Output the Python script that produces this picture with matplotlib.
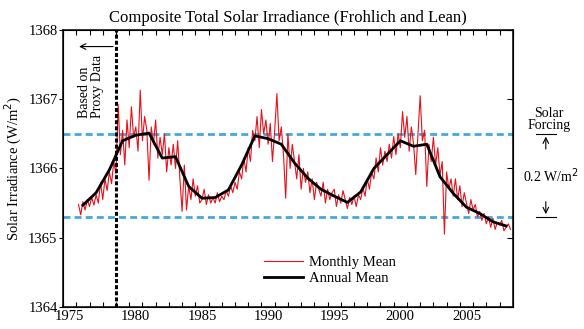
import numpy as np
import matplotlib
matplotlib.use("Agg")
import matplotlib.pyplot as plt

# composite TSI
# monthly series sampled every 2 months, starting Sep 1975
MONTHLY_START = 1975 + 8 / 12.0
monthly = [
    1365.48, 1365.33,
    1365.52, 1365.40, 1365.55, 1365.45, 1365.58, 1365.47,  # 1976
    1365.62, 1365.50, 1365.80, 1365.55, 1365.85, 1365.68,  # 1977
    1365.95, 1365.78, 1366.10, 1365.92, 1366.92, 1366.20,  # 1978
    1366.55, 1366.05, 1366.70, 1366.30, 1366.89, 1366.45,  # 1979
    1366.60, 1366.25, 1367.13, 1366.40, 1366.75, 1366.55,  # 1980
    1365.83, 1366.60, 1366.35, 1366.70, 1366.15, 1366.45,  # 1981
    1366.20, 1366.50, 1365.95, 1366.30, 1366.05, 1366.35,  # 1982
    1366.00, 1366.40, 1365.85, 1365.38, 1366.05, 1365.40,  # 1983
    1365.75, 1365.55, 1365.85, 1365.60, 1365.75, 1365.50,  # 1984
    1365.55, 1365.70, 1365.48, 1365.62, 1365.50, 1365.58,  # 1985
    1365.50, 1365.65, 1365.52, 1365.60, 1365.55, 1365.68,  # 1986
    1365.60, 1365.75, 1365.65, 1365.80, 1365.70, 1365.95,  # 1987
    1365.85, 1366.15, 1365.95, 1366.30, 1366.10, 1366.55,  # 1988
    1366.40, 1366.75, 1366.30, 1366.85, 1366.50, 1366.70,  # 1989
    1366.35, 1366.65, 1366.10, 1366.55, 1367.08, 1366.40,  # 1990
    1366.60, 1366.20, 1365.57, 1366.50, 1366.00, 1366.35,  # 1991
    1366.10, 1365.85, 1366.20, 1365.70, 1366.00, 1365.80,  # 1992
    1365.95, 1365.65, 1365.85, 1365.55, 1365.80, 1365.70,  # 1993
    1365.60, 1365.80, 1365.50, 1365.70, 1365.55, 1365.65,  # 1994
    1365.70, 1365.45, 1365.62, 1365.50, 1365.68, 1365.55,  # 1995
    1365.42, 1365.58, 1365.48, 1365.60, 1365.45, 1365.62,  # 1996
    1365.55, 1365.72, 1365.60, 1365.85, 1365.70, 1365.95,  # 1997
    1365.85, 1366.15, 1365.95, 1366.30, 1366.05, 1366.25,  # 1998
    1366.10, 1366.35, 1366.15, 1366.46, 1366.20, 1366.50,  # 1999
    1366.30, 1366.82, 1366.45, 1366.75, 1366.25, 1366.60,  # 2000
    1366.35, 1365.91, 1366.50, 1367.05, 1366.40, 1366.55,  # 2001
    1365.74, 1366.35, 1366.10, 1366.45, 1366.05, 1366.30,  # 2002
    1365.90, 1366.10, 1365.05, 1365.95, 1365.70, 1365.85,  # 2003
    1365.60, 1365.85, 1365.55, 1365.75, 1365.45, 1365.65,  # 2004
    1365.50, 1365.35, 1365.55, 1365.40, 1365.48, 1365.30,  # 2005
    1365.38, 1365.25, 1365.35, 1365.20, 1365.30, 1365.15,  # 2006
    1365.28, 1365.12, 1365.22, 1365.18, 1365.25, 1365.10,  # 2007
    1365.15, 1365.20, 1365.12,                             # 2008
]

years = list(range(1976, 2009))
annual = [
    1365.47, 1365.65, 1365.98, 1366.40, 1366.48, 1366.51, 1366.15, 1366.17,
    1365.74, 1365.57, 1365.58, 1365.69, 1366.05, 1366.47, 1366.43, 1366.35,
    1366.08, 1365.86, 1365.70, 1365.60, 1365.51, 1365.66, 1366.00, 1366.20,
    1366.40, 1366.32, 1366.35, 1365.88, 1365.64, 1365.44, 1365.35, 1365.23,
    1365.17,
]

proxy_end = 1978.5
band_hi = 1366.5
band_lo = 1365.3
year_labels = [1975, 1980, 1985, 1990, 1995, 2000, 2005]

plt.rcParams['font.family'] = ['Liberation Serif', 'DejaVu Serif']

fig = plt.figure(figsize=(5.84, 3.29), dpi=100)
ax = fig.add_axes([0.108, 0.067, 0.770, 0.842])

t = MONTHLY_START + np.arange(len(monthly)) / 6.0
ax.plot(t, monthly, color='#e8101a', lw=0.8, label='Monthly Mean', zorder=3)
ax.plot(years, annual, color='black', lw=2.0, label='Annual Mean', zorder=4)

blue = '#45a8dc'
ax.axhline(band_hi, color=blue, lw=2.0, ls=(0, (2.5, 1.5)), zorder=2)
ax.axhline(band_lo, color=blue, lw=2.0, ls=(0, (2.5, 1.5)), zorder=2)
ax.axvline(proxy_end, color='black', lw=2.2, ls=(0, (1.3, 0.7)), zorder=5)

ax.set_xlim(1974.5, 2008.5)
ax.set_ylim(1364, 1368)
ax.set_xticks(year_labels)
ax.set_xticks(np.arange(1974.5, 2008.6, 1.0), minor=True)
ax.set_yticks([1364, 1365, 1366, 1367, 1368])
ax.tick_params(axis='x', which='major', length=0, pad=2, labelsize=10.5)
ax.tick_params(axis='x', which='minor', direction='in', length=3.6,
               top=True, bottom=True, width=0.8)
ax.tick_params(axis='y', direction='out', length=3, width=0.8, pad=1,
               labelsize=10.5)
for s in ax.spines.values():
    s.set_linewidth(1.1)

# right side ticks point inwards
ax2 = ax.twinx()
ax2.set_ylim(1364, 1368)
ax2.set_yticks([1364, 1365, 1366, 1367, 1368])
ax2.tick_params(axis='y', direction='in', length=4, width=0.8,
                labelright=False)

ax.set_title('Composite Total Solar Irradiance (Frohlich and Lean)',
             fontsize=12, pad=6)
ax.set_ylabel('Solar Irradiance (W/m$^2$)', fontsize=10.5, labelpad=3)

# proxy data note
ax.annotate('', xy=(1975.5, 1367.76), xytext=(proxy_end, 1367.76),
            arrowprops=dict(arrowstyle='->', color='black', lw=0.8))
ax.text(1976.62, 1366.73, 'Based on\nProxy Data', rotation=90,
        rotation_mode='anchor', ha='left', va='center', fontsize=10,
        linespacing=0.95)

# solar forcing scale on the right
xr = 2011.0
ax.text(xr + 0.25, 1366.71, 'Solar\nForcing', ha='center', va='center',
        fontsize=10, linespacing=0.9, clip_on=False)
ax.plot([xr - 0.75, xr + 0.75], [band_hi, band_hi], color='black', lw=0.8,
        clip_on=False)
ax.plot([xr - 0.75, xr + 0.75], [band_lo, band_lo], color='black', lw=0.8,
        clip_on=False)
ax.annotate('', xy=(xr, band_hi), xytext=(xr, 1366.24),
            arrowprops=dict(arrowstyle='->', color='black', lw=0.8),
            annotation_clip=False)
ax.annotate('', xy=(xr, band_lo), xytext=(xr, 1365.56),
            arrowprops=dict(arrowstyle='->', color='black', lw=0.8),
            annotation_clip=False)
ax.text(xr + 0.4, 1365.9, '0.2 W/m$^2$', ha='center', va='center',
        fontsize=10, clip_on=False)

ax.legend(loc='center left', bbox_to_anchor=(0.447, 0.132), frameon=False,
          fontsize=10.5, handlelength=2.7, handletextpad=0.35,
          labelspacing=0.15, borderpad=0, borderaxespad=0)

fig.savefig('out.png', dpi=100)
